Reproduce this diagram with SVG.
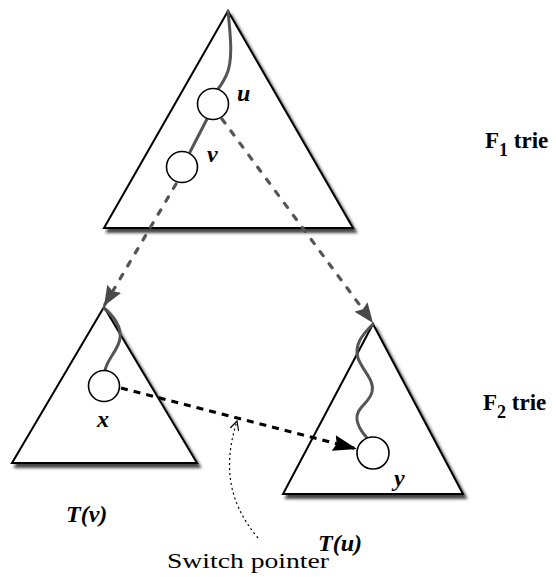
<svg xmlns="http://www.w3.org/2000/svg" width="556" height="577" viewBox="0 0 556 577">
<defs>
<filter id="sh" x="-10%" y="-10%" width="125%" height="125%">
<feDropShadow dx="3" dy="4" stdDeviation="1.5" flood-color="#333" flood-opacity="0.9"/>
</filter>
<marker id="ag" viewBox="0 0 20 16" refX="20" refY="8" markerWidth="20" markerHeight="16" markerUnits="userSpaceOnUse" orient="auto">
<path d="M0,0 L20,8 L0,16 L3,8 Z" fill="#4a4a4a"/>
</marker>
<marker id="ab" viewBox="0 0 24 16" refX="24" refY="8" markerWidth="24" markerHeight="16" markerUnits="userSpaceOnUse" orient="auto">
<path d="M0,0 L24,8 L0,16 L3,8 Z" fill="#000"/>
</marker>
<marker id="ao" viewBox="0 0 10 10" refX="9" refY="5" markerWidth="10" markerHeight="10" markerUnits="userSpaceOnUse" orient="auto">
<path d="M0,0.5 L9,5 L0,9.5" fill="none" stroke="#000" stroke-width="1.2"/>
</marker>
</defs>
<style>
.tri{fill:#fff;stroke:#000;stroke-width:2;stroke-linejoin:miter;filter:url(#sh)}
.path{fill:none;stroke:#555;stroke-width:3;stroke-linecap:round}
.node{fill:#fff;stroke:#000;stroke-width:1.6}
.lbl{font-family:"Liberation Serif",serif;font-style:italic;font-weight:bold;font-size:24px;fill:#000}
.ttl{font-family:"Liberation Serif",serif;font-weight:bold;font-size:23px;fill:#000}
.cap{font-family:"Liberation Serif",serif;font-size:22px;fill:#000}
</style>
<g id="f1trie">
<polygon class="tri" points="228,11 353,228 104,228"/>
<path class="path" d="M228,11 C231,40 233,62 226,76 C222,84 219,88 217,90"/>
<path class="path" d="M207,119 L190,152"/>
<g id="u"><circle class="node" cx="213" cy="104" r="15.5"/><text class="lbl" x="237" y="101">u</text></g>
<g id="v"><circle class="node" cx="182" cy="167" r="15.5"/><text class="lbl" x="207" y="162">v</text></g>
</g>
<g id="tv">
<polygon class="tri" points="104,307 197,463 12,463"/>
<path class="path" d="M104,308 C118,320 124,332 118,345 C113,356 106,362 105,371"/>
<g id="x"><circle class="node" cx="104" cy="386" r="15.5"/><text class="lbl" x="97" y="427">x</text></g>
</g>
<g id="tu">
<polygon class="tri" points="373,324 463,494 283,494"/>
<path class="path" d="M373,324 C362,335 354,345 358,358 C362,370 375,380 372,392 C369,404 355,408 357,420 C359,430 364,434 367,438"/>
<g id="y"><circle class="node" cx="373" cy="453" r="16"/><text class="lbl" x="394" y="486">y</text></g>
</g>
<g id="connectors">
<line x1="176" y1="184" x2="104" y2="306" stroke="#555" stroke-width="3.2" stroke-dasharray="5,10" stroke-linecap="round" marker-end="url(#ag)"/>
<line x1="222" y1="119" x2="373" y2="323" stroke="#555" stroke-width="3.2" stroke-dasharray="5,10" stroke-linecap="round" marker-end="url(#ag)"/>
<line x1="121" y1="388" x2="357" y2="449" stroke="#000" stroke-width="3.2" stroke-dasharray="7,6" marker-end="url(#ab)"/>
<path d="M258,538 C226,500 224,462 237,421" fill="none" stroke="#000" stroke-width="1.2" stroke-dasharray="2,3" marker-end="url(#ao)"/>
</g>
<g id="labels">
<text class="ttl" x="485" y="148">F<tspan font-size="18" dy="8">1</tspan><tspan dy="-8"> trie</tspan></text>
<text class="ttl" x="483" y="410">F<tspan font-size="18" dy="8">2</tspan><tspan dy="-8"> trie</tspan></text>
<text class="lbl" x="66" y="522" font-size="24">T(v)</text>
<text class="lbl" x="318" y="551" font-size="24">T(u)</text>
<text class="cap" x="167" y="568" textLength="162" lengthAdjust="spacingAndGlyphs">Switch pointer</text>
</g>
</svg>
